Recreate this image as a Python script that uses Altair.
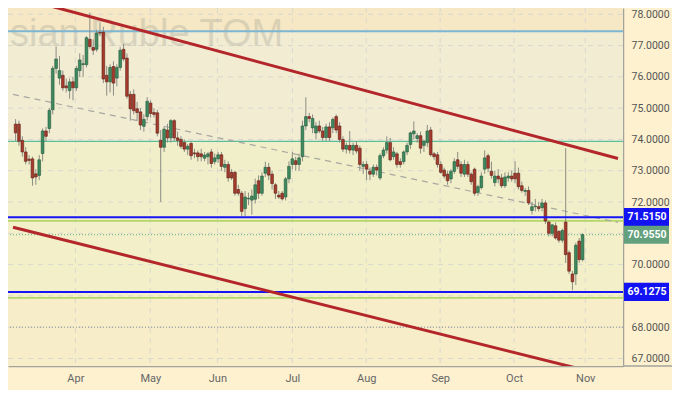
import altair as alt
import pandas as pd

# ---- candle data (bar index order, mid-March .. 1 Nov) ----
opens = [74.49,74.49,73.97,73.60,73.37,73.38,72.90,72.85,73.55,74.27,74.35,74.95,76.27,75.96,76.05,75.71,75.56,75.84,75.65,76.20,
         76.39,76.39,77.20,76.94,76.88,77.42,77.43,76.05,75.84,76.33,75.96,76.30,76.88,76.60,75.44,75.44,74.98,74.88,74.42,74.73,
         75.16,74.86,74.85,73.97,73.75,74.30,74.05,74.60,74.05,74.00,73.90,73.69,73.87,73.57,73.57,73.54,73.40,73.45,73.60,73.29,
         73.38,73.51,73.11,73.20,72.95,72.95,72.40,72.28,71.79,72.10,72.06,72.09,72.68,72.28,72.92,73.11,72.89,72.55,72.22,72.28,
         72.16,72.74,73.20,73.32,73.20,73.45,74.43,74.73,74.37,74.21,74.43,74.27,74.06,74.40,74.37,74.73,74.43,74.00,73.69,73.81,
         73.66,73.81,73.72,73.14,73.20,72.98,72.89,73.11,72.77,73.48,73.66,73.90,73.45,73.54,73.29,73.29,73.60,73.84,74.18,74.03,
         74.12,73.81,73.90,74.30,73.54,73.51,73.20,73.02,72.89,72.74,72.98,73.35,73.20,72.89,73.20,72.89,73.05,72.31,72.46,73.05,
         73.48,72.98,72.62,72.83,72.77,72.52,72.77,72.83,72.92,72.92,72.52,72.34,72.37,71.73,71.85,71.85,71.82,71.97,71.36,71.00,
         71.24,71.06,70.78,71.36,70.38,69.70,69.70,70.75,70.16]
highs = [74.65,74.60,74.10,73.75,73.50,73.45,73.05,73.50,74.35,74.40,75.00,76.35,76.97,76.67,76.20,75.95,75.95,76.00,76.35,76.75,
         76.70,77.30,78.05,77.20,77.50,77.74,77.60,76.35,76.40,76.50,76.40,76.95,77.05,76.75,75.55,75.60,75.20,75.00,74.80,75.35,
         75.25,75.00,74.95,74.30,74.40,74.50,74.65,74.65,74.25,74.10,74.00,73.85,73.95,73.70,73.65,73.70,73.60,73.60,73.70,73.55,
         73.60,73.60,73.35,73.30,73.05,73.00,72.55,72.35,72.35,72.30,72.40,72.75,72.85,72.95,73.29,73.25,73.00,72.60,72.35,72.35,
         72.80,73.30,73.60,73.45,73.55,74.60,75.35,74.85,74.80,74.55,74.60,74.40,74.50,74.55,74.70,74.80,74.55,74.10,73.90,74.27,
         73.90,73.95,73.80,73.30,73.30,73.10,73.20,73.20,73.55,73.75,74.10,74.05,73.75,73.60,73.40,73.65,73.90,74.25,74.58,74.20,
         74.25,74.00,74.46,74.40,73.60,73.60,73.30,73.10,73.00,73.05,73.40,73.60,73.30,73.35,73.30,72.95,73.10,72.55,72.95,73.65,
         73.55,73.29,73.00,73.05,72.90,72.95,72.95,73.00,73.30,73.10,72.65,72.45,72.50,72.00,72.10,72.00,72.10,72.05,71.40,71.30,
         71.35,71.10,71.15,73.72,70.45,69.80,70.70,70.85,71.00]
lows = [73.95,73.80,73.45,73.20,73.20,72.52,72.55,72.70,73.30,73.95,74.20,74.80,76.10,75.75,75.55,75.50,75.30,75.25,75.55,76.00,
        76.00,76.30,76.90,76.70,76.80,77.30,75.80,75.40,75.50,75.40,75.70,76.20,76.50,75.30,74.60,74.80,74.60,74.30,74.25,74.60,
        74.70,74.70,74.10,72.00,73.60,73.90,73.90,73.95,73.80,73.70,73.60,73.50,73.35,73.40,73.30,73.30,73.30,73.20,73.10,73.20,
        73.25,73.00,72.95,72.65,72.70,72.20,72.20,71.55,71.55,71.90,71.60,71.95,72.10,72.20,72.80,72.70,72.40,72.10,72.10,72.05,
        72.05,72.60,73.05,73.00,73.00,73.30,74.30,74.55,74.20,74.00,74.20,73.95,73.95,73.95,74.20,74.20,73.90,73.60,73.55,73.55,
        73.50,73.55,73.00,72.90,72.70,72.70,72.80,72.85,72.70,73.40,73.55,73.30,73.35,73.10,73.10,73.20,73.50,73.70,74.00,73.90,
        73.55,73.60,73.75,73.45,73.35,73.10,72.90,72.75,72.55,72.60,72.90,73.05,72.80,72.80,72.80,72.55,72.20,72.20,72.40,72.90,
        72.95,72.75,72.50,72.60,72.45,72.45,72.65,72.65,72.60,72.40,72.30,72.20,71.90,71.60,71.70,71.70,71.70,71.30,70.90,70.90,
        70.80,70.70,70.70,70.05,69.70,69.18,69.35,70.05,70.10]
closes = [74.21,73.94,73.60,73.30,73.33,72.77,72.80,73.35,74.27,74.10,74.93,76.27,76.57,76.20,75.65,75.65,75.84,75.65,76.27,76.54,
          76.42,77.25,76.97,76.85,77.40,77.40,75.93,75.84,76.30,75.80,76.30,76.85,76.57,75.38,74.98,74.92,74.86,74.46,74.64,75.22,
          74.83,74.80,74.20,73.75,74.33,74.05,74.60,74.05,73.97,73.78,73.69,73.78,73.48,73.54,73.45,73.45,73.50,73.54,73.23,73.41,
          73.51,73.14,73.20,72.77,72.77,72.28,72.28,71.70,72.16,72.12,72.19,72.55,72.28,72.83,73.11,72.86,72.59,72.28,72.16,72.10,
          72.74,73.14,73.38,73.20,73.41,74.43,74.73,74.67,74.67,74.43,74.27,74.06,74.40,74.06,74.64,74.30,74.00,73.69,73.81,73.66,
          73.81,73.63,73.20,73.20,73.05,72.89,73.11,73.02,73.48,73.66,73.90,73.35,73.60,73.20,73.20,73.60,73.81,74.21,74.27,74.12,
          73.72,73.94,74.27,73.51,73.45,73.20,72.95,72.83,72.68,72.98,73.29,73.14,72.92,73.20,72.89,72.65,72.28,72.49,72.83,73.41,
          73.08,72.85,72.83,72.74,72.52,72.80,72.83,72.74,72.74,72.49,72.37,72.37,71.97,71.85,71.87,71.79,71.97,71.39,71.00,71.27,
          70.85,70.78,71.09,70.32,69.79,69.45,70.62,70.16,70.955]

# ---- axis ticks ----
month_names = ["Apr", "May", "Jun", "Jul", "Aug", "Sep", "Oct", "Nov"]
month_pos = [17.7, 39.9, 59.8, 82.0, 103.9, 125.8, 147.7, 168.8]
price_labels = [67, 68, 70, 72, 73, 74, 75, 76, 77, 78]
price_grid = [67, 68, 69, 70, 71, 72, 73, 74, 75, 76, 77, 78]

# ---- drawn levels ----
blue_levels = [71.515, 69.1275]
lime_levels = [71.40, 68.94]
lightblue_level = [77.46]
green_level = [73.94]
dotted_level = [68.0]
last_price = [70.955]

# ---- trend lines (bar index, price) ----
upper_x = [-0.77, 178.5]
upper_y = [78.585, 73.39]
lower_x = [-0.77, 178.5]
lower_y = [71.196, 66.363]
mid_x = [-0.77, 178.5]
mid_y = [75.44, 71.35]

# ---- background bands ----
band_lo = [77.46, 73.94, 71.40, 68.94, 66.76]
band_hi = [78.20, 77.46, 73.94, 71.40, 68.94]
band_col = ["#f6e8c5", "#f2ecd3", "#f1efca", "#f3f0c9", "#f7edc8"]

watermark = ["sian Ruble TOM"]

W, H = 615, 358
RP, BP = 49, 24
XD = [-0.77, 178.5]
YD = [66.76, 78.2]
xs = alt.Scale(domain=XD, nice=False, zero=False)
ys = alt.Scale(domain=YD, nice=False, zero=False)

month_expr = " : ".join(
    f"datum.value == {p} ? '{n}'" for p, n in zip(month_pos, month_names)) + " : ''"

XA = alt.Axis(values=month_pos, labelExpr=month_expr, grid=False, ticks=False, title=None,
              domainColor="#a3a39b", domainWidth=1.5, labelColor="#666666",
              labelFontSize=11, labelFont="Roboto", labelPadding=6)
YA = alt.Axis(orient="right", values=price_labels, format=".4f", grid=False, ticks=False, title=None,
              domainColor="#a3a39b", domainWidth=1.5, labelColor="#555555",
              labelFontSize=10.5, labelFont="Roboto", labelPadding=8)

def X(f):
    return alt.X(f, scale=xs, axis=XA, title=None)

def Y(f):
    return alt.Y(f, scale=ys, axis=YA, title=None)

candles = pd.DataFrame({"i": list(range(len(closes))), "o": opens, "h": highs, "l": lows, "c": closes})
candles["up"] = candles["c"] >= candles["o"]

bands = pd.DataFrame({"lo": band_lo, "hi": band_hi, "col": band_col})
band_layer = alt.Chart(bands).mark_rect().encode(
    y=Y("hi:Q"), y2="lo:Q", color=alt.Color("col:N", scale=None))

hgrid = alt.Chart(pd.DataFrame({"v": price_grid})).mark_rule(
    color="#d9d8cf", strokeDash=[5, 5], strokeWidth=1).encode(y=Y("v:Q"))
vgrid = alt.Chart(pd.DataFrame({"m": month_pos})).mark_rule(
    color="#d9d8cf", strokeDash=[5, 5], strokeWidth=1).encode(x=X("m:Q"))

wm = alt.Chart(pd.DataFrame({"t": watermark})).mark_text(
    align="left", baseline="alphabetic", fontSize=38, font="Liberation Sans",
    color="#8a8a80", opacity=0.25).encode(x=alt.value(2), y=alt.value(38), text="t:N")

def hline(vals, **kw):
    return alt.Chart(pd.DataFrame({"v": vals})).mark_rule(**kw).encode(y=Y("v:Q"))

lb = hline(lightblue_level, color="#7cb6d2", strokeWidth=2)
gl = hline(green_level, color="#5cbf9c", strokeWidth=1.2)
ll = hline(lime_levels, color="#b4d66a", strokeWidth=1.8)
dl = hline(dotted_level, color="#8f8f8f", strokeDash=[1, 2], strokeWidth=1)
pl = hline(last_price, color="#5fa883", strokeDash=[1, 2], strokeWidth=1)
bl = hline(blue_levels, color="#1515f5", strokeWidth=2)

def tline(xv, yv, **kw):
    return alt.Chart(pd.DataFrame({"x": xv, "y": yv})).mark_line(clip=True, **kw).encode(
        x=X("x:Q"), y=Y("y:Q"))

mid = tline(mid_x, mid_y, color="#a8a8a0", strokeDash=[6, 5], strokeWidth=1.2)
up = tline(upper_x, upper_y, color="#b3262a", strokeWidth=3)
lo = tline(lower_x, lower_y, color="#b3262a", strokeWidth=3)

wick = alt.Chart(candles).mark_rule(color="#8c8c84", strokeWidth=1).encode(
    x=X("i:Q"), y=Y("l:Q"), y2="h:Q")

body = alt.Chart(candles).mark_bar(size=2.7, strokeWidth=0.6).encode(
    x=X("i:Q"), y=Y("o:Q"), y2="c:Q",
    color=alt.condition("datum.up", alt.value("#3d8a5f"), alt.value("#a53b2d")),
    stroke=alt.condition("datum.up", alt.value("#24573a"), alt.value("#5e2018")))

badge_df = pd.DataFrame({"v": blue_levels + last_price,
                         "kind": ["b"] * len(blue_levels) + ["g"] * len(last_price)})
badge_rect = alt.Chart(badge_df).transform_calculate(
    top="datum.v + 0.29", bot="datum.v - 0.29").mark_rect().encode(
    x=alt.value(W + 1), x2=alt.value(W + 46),
    y=Y("top:Q"), y2="bot:Q",
    color=alt.condition("datum.kind == 'b'", alt.value("#1212f2"), alt.value("#62a07e")))
badge_text = alt.Chart(badge_df).mark_text(
    align="center", baseline="middle", fontSize=10.5, fontWeight="bold", font="Roboto",
    color="white").encode(
    x=alt.value(W + 24), y=Y("v:Q"),
    text=alt.Text("v:Q", format=".4f"))

ext = alt.Chart(pd.DataFrame({"t": [0]})).mark_rule(color="#a3a39b", strokeWidth=1.5).encode(
    x=alt.value(W), x2=alt.value(W + RP), y=alt.value(H))

chart = alt.layer(
    band_layer, hgrid, vgrid, wm, lb, gl, ll, dl, pl, mid, wick, body, bl, up, lo,
    badge_rect, badge_text, ext
).properties(
    width=W, height=H,
    autosize=alt.AutoSizeParams(type="none"),
    padding={"left": 0, "top": 0, "right": RP, "bottom": BP},
    background="#fdf1cf"
).configure_view(stroke=None)

chart.save("out.html", embed_options={"renderer": "svg", "actions": False})
